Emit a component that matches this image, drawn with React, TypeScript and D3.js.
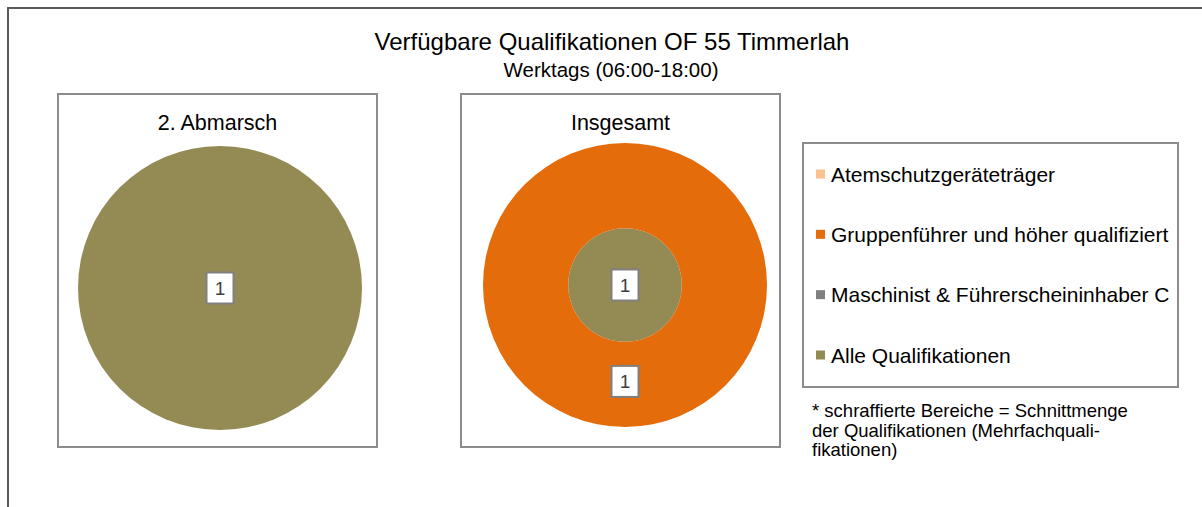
import React from "react";
import * as d3 from "d3";

const chartTitle = "Verfügbare Qualifikationen OF 55 Timmerlah";
const chartSubtitle = "Werktags (06:00-18:00)";
const panelTitles = ["2. Abmarsch", "Insgesamt"];
const categories = [
  "Atemschutzgeräteträger",
  "Gruppenführer und höher qualifiziert",
  "Maschinist & Führerscheininhaber C",
  "Alle Qualifikationen",
];
const categoryColors = ["#FAC090", "#E46C0A", "#7F7F7F", "#948A54"];
// values per panel: rings from inside to outside, each ring = values per category
const abmarschRings = [[0, 0, 0, 1]];
const insgesamtRings = [
  [0, 0, 0, 1],
  [0, 1, 0, 0],
];
const noteLines = [
  "* schraffierte Bereiche = Schnittmenge",
  "der Qualifikationen (Mehrfachquali-",
  "fikationen)",
];

const FONT = "'Liberation Sans', Arial, sans-serif";

type PanelProps = {
  x: number;
  y: number;
  w: number;
  h: number;
  title: string;
  rings: number[][];
  cx: number;
  cy: number;
  r: number;
  ringRadii: number[];
};

function Panel({ x, y, w, h, title, rings, cx, cy, r, ringRadii }: PanelProps) {
  const pie = d3.pie<number>().value((d) => d).sort(null);
  const elements: React.ReactNode[] = [];
  const labels: React.ReactNode[] = [];
  rings.forEach((ring, ri) => {
    const inner = ri === 0 ? 0 : ringRadii[ri - 1] * r;
    const outer = ringRadii[ri] * r;
    const arc = d3.arc<d3.PieArcDatum<number>>().innerRadius(inner).outerRadius(outer);
    const arcs = pie(ring);
    const total = d3.sum(ring);
    arcs.forEach((a, ci) => {
      if (a.value <= 0) return;
      elements.push(
        <path key={`p${ri}-${ci}`} d={arc(a) || ""} fill={categoryColors[ci]} transform={`translate(${cx},${cy})`} />
      );
      let lx = cx;
      let ly = cy;
      if (!(inner === 0 && a.value === total)) {
        const c = arc.centroid(a);
        lx = cx + c[0];
        ly = cy + c[1] - 3;
      }
      labels.push(
        <g key={`l${ri}-${ci}`}>
          <rect x={lx - 13.5} y={ly - 15.5} width={27} height={31} fill="#fff" stroke="#808080" strokeWidth={2} />
          <text x={lx} y={ly + 7} textAnchor="middle" fontSize={19} fontFamily={FONT} fill="#404040">
            {a.value}
          </text>
        </g>
      );
    });
  });
  return (
    <g>
      <rect x={x} y={y} width={w} height={h} fill="#fff" stroke="#8C8C8C" strokeWidth={2} />
      <text x={x + w / 2} y={y + 36} textAnchor="middle" fontSize={21.5} fontFamily={FONT} fill="#000">
        {title}
      </text>
      {elements}
      {labels}
    </g>
  );
}

export default function App() {
  const width = 1202;
  const height = 507;
  const legendY = d3.scalePoint<string>().domain(categories).range([174, 355]);
  return (
    <svg
      width={width}
      height={height}
      style={{ position: "absolute", left: 0, top: 0, background: "#fff" }}
    >
      <rect x={0} y={0} width={width} height={height} fill="#fff" />
      <rect x={8} y={8} width={1400} height={700} fill="none" stroke="#5A5A5A" strokeWidth={2} />
      <text x={612} y={50} textAnchor="middle" fontSize={24} fontFamily={FONT} fill="#000">
        {chartTitle}
      </text>
      <text x={611} y={77} textAnchor="middle" fontSize={20.5} fontFamily={FONT} fill="#000">
        {chartSubtitle}
      </text>
      <Panel x={58} y={94} w={319} h={353} title={panelTitles[0]} rings={abmarschRings} cx={220} cy={288} r={142} ringRadii={[1]} />
      <Panel x={461} y={94} w={319} h={353} title={panelTitles[1]} rings={insgesamtRings} cx={625} cy={285} r={142} ringRadii={[0.4, 1]} />
      <rect x={803} y={143} width={375} height={244} fill="#fff" stroke="#8C8C8C" strokeWidth={2} />
      {categories.map((c, i) => (
        <g key={c}>
          <rect x={816} y={(legendY(c) || 0) - 4.5} width={9} height={9} fill={categoryColors[i]} />
          <text x={831} y={(legendY(c) || 0) + 7.5} fontSize={21} fontFamily={FONT} fill="#000">
            {c}
          </text>
        </g>
      ))}
      {noteLines.map((l, i) => (
        <text key={i} x={812} y={417 + i * 19.5} fontSize={18.5} fontFamily={FONT} fill="#000">
          {l}
        </text>
      ))}
    </svg>
  );
}
